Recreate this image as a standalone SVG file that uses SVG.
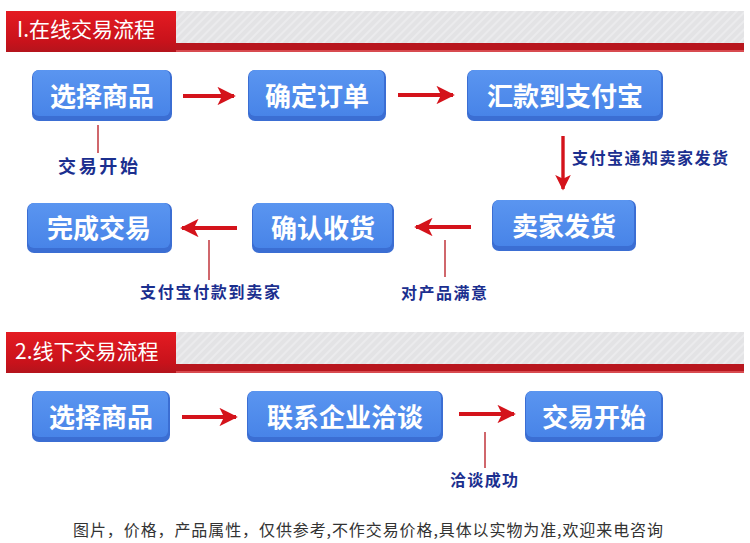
<svg xmlns="http://www.w3.org/2000/svg" width="750" height="543" viewBox="0 0 750 543">
<defs>
<linearGradient id="tab" x1="0" y1="0" x2="0" y2="1"><stop offset="0" stop-color="#e41b22"/><stop offset="0.75" stop-color="#c8121b"/><stop offset="1" stop-color="#b4141c"/></linearGradient>
<linearGradient id="face" x1="0" y1="0" x2="0" y2="1"><stop offset="0" stop-color="#5a95f0"/><stop offset="1" stop-color="#4884e8"/></linearGradient>
<pattern id="stripe" width="6" height="6" patternUnits="userSpaceOnUse" patternTransform="rotate(45)"><rect width="6" height="6" fill="#e3e3e5"/><rect width="2" height="6" fill="#ebebed"/></pattern>
<marker id="ah" viewBox="0 0 10 10" refX="9" refY="5" markerWidth="4.6" markerHeight="4.6" orient="auto" markerUnits="strokeWidth"><path d="M0,0 L10,5 L0,10 L2.5,5 Z" fill="#d4131b"/></marker>
</defs>
<style>
.nt{font-family:"Noto Sans CJK SC","Noto Sans",sans-serif;font-weight:700;font-size:26px;fill:#ffffff;text-anchor:middle}
.lb{font-family:"Noto Sans CJK SC","Noto Sans",sans-serif;font-weight:700;font-size:16px;fill:#1b2f8f}
.hd{font-family:"Noto Sans CJK SC","Noto Sans",sans-serif;font-size:21px;fill:#ffffff}
.ar{stroke:#d4131b;stroke-width:4;fill:none;marker-end:url(#ah)}
.ln{stroke:#c0343b;stroke-width:1.5}
.edge{fill:#3b6ed3}
.face{fill:url(#face)}
</style>
<rect width="750" height="543" fill="#ffffff"/>

<g id="header1">
<rect x="176" y="11" width="568" height="33" fill="url(#stripe)"/>
<rect x="6" y="43" width="738" height="9" fill="#b8161e"/>
<rect x="6" y="50" width="738" height="2" fill="#d84b50"/>
<rect x="6" y="11" width="170" height="41" fill="url(#tab)"/>
<text class="hd" x="17" y="37">I.在线交易流程</text>
</g>

<g id="header2">
<rect x="176" y="332" width="568" height="32" fill="url(#stripe)"/>
<rect x="6" y="364" width="738" height="9" fill="#b8161e"/>
<rect x="6" y="371" width="738" height="2" fill="#d84b50"/>
<rect x="6" y="332" width="170" height="41" fill="url(#tab)"/>
<text class="hd" x="15" y="359">2.线下交易流程</text>
</g>

<g id="connectors">
<line class="ar" x1="183" y1="96" x2="234" y2="96"/>
<line class="ar" x1="398" y1="95" x2="453" y2="95"/>
<line class="ar" x1="563" y1="136" x2="563" y2="189" style="stroke-width:3.4"/>
<line class="ar" x1="471" y1="227" x2="416" y2="227"/>
<line class="ar" x1="237" y1="228" x2="182" y2="228"/>
<line class="ar" x1="182" y1="417" x2="236" y2="417"/>
<line class="ar" x1="459" y1="414" x2="514" y2="414"/>
<line class="ln" x1="98" y1="125" x2="98" y2="153"/>
<line class="ln" x1="209" y1="240" x2="209" y2="280"/>
<line class="ln" x1="445" y1="240" x2="445" y2="277"/>
<line class="ln" x1="485" y1="432" x2="485" y2="468"/>
</g>

<g id="node-xuanze1">
<rect class="edge" x="32" y="70" width="140" height="51" rx="7"/>
<rect class="face" x="33" y="70" width="137" height="46" rx="6"/>
<text class="nt" x="102" y="106">选择商品</text>
</g>
<g id="node-queding">
<rect class="edge" x="248" y="70" width="138" height="51" rx="7"/>
<rect class="face" x="249" y="70" width="135" height="46" rx="6"/>
<text class="nt" x="317" y="106">确定订单</text>
</g>
<g id="node-huikuan">
<rect class="edge" x="467" y="70" width="196" height="51" rx="7"/>
<rect class="face" x="468" y="70" width="193" height="46" rx="6"/>
<text class="nt" x="565" y="106">汇款到支付宝</text>
</g>
<g id="node-maijia">
<rect class="edge" x="492" y="200" width="144" height="51" rx="7"/>
<rect class="face" x="493" y="200" width="141" height="46" rx="6"/>
<text class="nt" x="564" y="236">卖家发货</text>
</g>
<g id="node-queren">
<rect class="edge" x="252" y="203" width="142" height="50" rx="7"/>
<rect class="face" x="253" y="203" width="139" height="45" rx="6"/>
<text class="nt" x="323" y="238">确认收货</text>
</g>
<g id="node-wancheng">
<rect class="edge" x="27" y="203" width="145" height="50" rx="7"/>
<rect class="face" x="28" y="203" width="142" height="45" rx="6"/>
<text class="nt" x="99" y="238">完成交易</text>
</g>
<g id="node-xuanze2">
<rect class="edge" x="32" y="391" width="138" height="51" rx="7"/>
<rect class="face" x="33" y="391" width="135" height="46" rx="6"/>
<text class="nt" x="101" y="427">选择商品</text>
</g>
<g id="node-lianxi">
<rect class="edge" x="247" y="391" width="196" height="51" rx="7"/>
<rect class="face" x="248" y="391" width="193" height="46" rx="6"/>
<text class="nt" x="345" y="427">联系企业洽谈</text>
</g>
<g id="node-jiaoyi">
<rect class="edge" x="525" y="391" width="138" height="51" rx="7"/>
<rect class="face" x="526" y="391" width="135" height="46" rx="6"/>
<text class="nt" x="594" y="427">交易开始</text>
</g>

<g id="labels">
<text class="lb" x="58" y="173" textLength="80" style="font-size:18px">交易开始</text>
<text class="lb" x="572" y="164" textLength="156">支付宝通知卖家发货</text>
<text class="lb" x="140" y="298" textLength="140">支付宝付款到卖家</text>
<text class="lb" x="401" y="299" textLength="86">对产品满意</text>
<text class="lb" x="450" y="486" textLength="68">洽谈成功</text>
<text x="73" y="536" textLength="590" lengthAdjust="spacing" style="font-family:'Noto Sans CJK SC','Noto Sans',sans-serif;font-size:16px;fill:#333333">图片，价格，产品属性，仅供参考,不作交易价格,具体以实物为准,欢迎来电咨询</text>
</g>
</svg>
